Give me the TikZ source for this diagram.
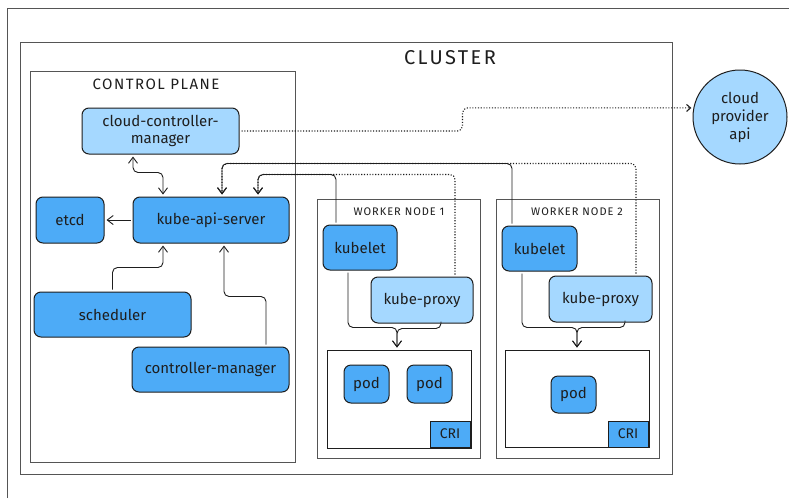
\documentclass[tikz,border=0pt]{standalone}
\usepackage{fontspec}
\setmainfont{Fira Sans}
\usetikzlibrary{arrows.meta,shapes.geometric}
\definecolor{ink}{HTML}{1E1E1E}
\definecolor{framec}{HTML}{555555}
\definecolor{kblue}{HTML}{4DABF7}
\definecolor{klight}{HTML}{A5D8FF}
\tikzset{
  frame/.style={draw=framec, line width=0.9pt, rectangle, inner sep=0pt},
  bluebox/.style={draw=ink, line width=1pt, fill=kblue, rounded corners=7pt, inner sep=2pt, align=center, font=\fontsize{15}{17}\selectfont, text=ink},
  lightbox/.style={bluebox, fill=klight},
  squarebox/.style={draw=ink, line width=0.9pt, fill=kblue, inner sep=0pt, font=\fontsize{14}{15}\selectfont, text=ink},
  lbl/.style={text=ink, inner sep=0pt},
  arr/.style={draw=ink, line width=0.9pt, -{Straight Barb[length=6pt,width=9pt]}, shorten >=2pt, shorten <=2pt, rounded corners=5pt},
  dotarr/.style={arr, line width=1.1pt, dash pattern=on 1.1pt off 1.7pt},
}
\begin{document}
\begin{tikzpicture}[x=1pt,y=-1pt]
\useasboundingbox (0,0) rectangle (789,498);
\fill[white] (0,0) rectangle (789,498);
% outer partial frame
\draw[framec, line width=0.9pt] (7,498) -- (7,8) -- (789,8);
% cluster
\node[frame, minimum width=652pt, minimum height=432pt] (cluster) at (346,258) {};
\node[lbl, font=\fontsize{20}{22}\selectfont\addfontfeatures{LetterSpace=12}] (lblcluster) at (450,58) {CLUSTER};
% control plane
\node[frame, minimum width=265pt, minimum height=391pt] (cp) at (162.5,266.5) {};
\node[lbl, font=\fontsize{15}{17}\selectfont\addfontfeatures{LetterSpace=10}] (lblcp) at (156,84) {CONTROL PLANE};
\node[lightbox, minimum width=157pt, minimum height=46pt] (ccm) at (160.5,131) {cloud-controller-\\manager};
\node[bluebox, minimum width=68pt, minimum height=46pt] (etcd) at (70,220) {etcd};
\node[bluebox, minimum width=156pt, minimum height=46pt] (api) at (211,220) {kube-api-server};
\node[bluebox, minimum width=157pt, minimum height=45pt] (sched) at (112.5,314.5) {scheduler};
\node[bluebox, minimum width=157pt, minimum height=45pt] (cm) at (210.5,369.5) {controller-manager};
% cloud provider
\node[circle, draw=ink, line width=1pt, fill=klight, minimum size=94pt, inner sep=0pt, align=center, font=\fontsize{15}{18}\selectfont, text=ink] (cloud) at (740,117) {cloud\\provider\\api};
% worker node 1
\node[frame, minimum width=163pt, minimum height=259pt] (wn1) at (398.5,328.5) {};
\node[lbl, font=\fontsize{11}{12}\selectfont\addfontfeatures{LetterSpace=9}] (lblwn1) at (399,212) {WORKER NODE 1};
\node[bluebox, minimum width=74pt, minimum height=45pt] (kubelet1) at (360,247.5) {kubelet};
\node[lightbox, minimum width=102pt, minimum height=46pt] (kp1) at (422,300) {kube-proxy};
\node[frame, draw=ink, minimum width=144pt, minimum height=98pt] (ct1) at (399,399) {};
\node[bluebox, minimum width=45pt, minimum height=38pt] (pod1) at (366.5,384) {pod};
\node[bluebox, minimum width=45pt, minimum height=38pt] (pod2) at (429.5,384) {pod};
\node[squarebox, minimum width=40pt, minimum height=26pt] (cri1) at (450,434) {CRI};
% worker node 2
\node[frame, minimum width=163pt, minimum height=259pt] (wn2) at (577.5,328.5) {};
\node[lbl, font=\fontsize{11}{12}\selectfont\addfontfeatures{LetterSpace=9}] (lblwn2) at (577,212) {WORKER NODE 2};
\node[bluebox, minimum width=75pt, minimum height=45pt] (kubelet2) at (539.5,248.5) {kubelet};
\node[lightbox, minimum width=103pt, minimum height=46pt] (kp2) at (600.5,299) {kube-proxy};
\node[frame, draw=ink, minimum width=144pt, minimum height=97pt] (ct2) at (577,398.5) {};
\node[bluebox, minimum width=45pt, minimum height=37pt] (pod3) at (573.5,394.5) {pod};
\node[squarebox, minimum width=40pt, minimum height=26pt] (cri2) at (628,434) {CRI};
% connectors in control plane
\draw[arr, {Straight Barb[length=6pt,width=9pt]}-{Straight Barb[length=6pt,width=9pt]}] ([xshift=-27.5pt]ccm.south) -- ++(0,18) -| ([xshift=-48pt]api.north);
\draw[arr] (api.west) -- (etcd.east);
\draw[arr] (sched.north) -- ++(0,-24) -| ([xshift=-48pt]api.south);
\draw[arr] ([xshift=55.5pt]cm.north) -- ++(0,-50) -| ([xshift=13pt]api.south);
% ccm to cloud provider
\draw[dotarr, -{Straight Barb[length=4pt,width=7pt]}] (ccm.east) -- ++(223,0) |- (cloud.169);
% workers to api
\draw[dotarr] ([xshift=35.5pt]kp2.north) -- ++(0,-112) -| ([xshift=11pt]api.north);
\draw[arr] ([xshift=-27.5pt]kubelet2.north) -- ++(0,-62) -| ([xshift=11pt]api.north);
\draw[dotarr] ([xshift=33pt]kp1.north) -- ++(0,-102) -| ([xshift=47pt]api.north);
\draw[arr] ([xshift=-24pt]kubelet1.north) -- ++(0,-50) -| ([xshift=47pt]api.north);
% inside worker nodes
\draw[arr] ([xshift=-12pt]kubelet1.south) -- ++(0,57) -| ([xshift=-2pt]ct1.north);
\draw[arr] ([xshift=19pt]kp1.south) -- ++(0,5) -| ([xshift=-2pt]ct1.north);
\draw[arr] ([xshift=-17.5pt]kubelet2.south) -- ++(0,56) -| (ct2.north);
\draw[arr] ([xshift=24.5pt]kp2.south) -- ++(0,5) -| (ct2.north);
\end{tikzpicture}
\end{document}
